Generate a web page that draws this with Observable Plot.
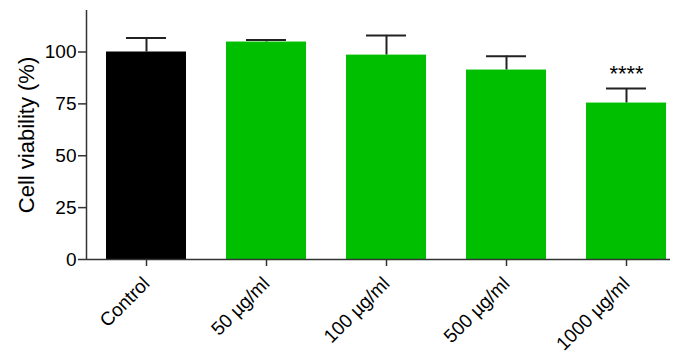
<!DOCTYPE html>
<html>
<head>
<meta charset="utf-8">
<script src="https://cdn.jsdelivr.net/npm/d3@7"></script>
<script src="https://cdn.jsdelivr.net/npm/@observablehq/plot@0.6"></script>
<style>
  html, body { margin: 0; padding: 0; background: #fff; }
  svg { font-family: "Liberation Sans", Arial, sans-serif; }
</style>
</head>
<body>
<div id="chart"></div>
<script>
const categories = ["Control", "50 µg/ml", "100 µg/ml", "500 µg/ml", "1000 µg/ml"];
const means = [100, 104.8, 98.5, 91.3, 75.4];
const errTop = [106.8, 105.8, 108, 98, 82.4];
const signif = ["", "", "", "", "****"];
const colors = ["#000000", "#00bf00", "#00bf00", "#00bf00", "#00bf00"];
const yTicks = [0, 25, 50, 75, 100];

const data = categories.map((c, i) => ({ c, m: means[i], e: errTop[i], s: signif[i], col: colors[i] }));

const chart = Plot.plot({
  width: 677,
  height: 356,
  marginTop: 10,
  marginBottom: 97,
  marginLeft: 86,
  marginRight: 7,
  style: { fontFamily: "Liberation Sans, Arial, sans-serif", fontSize: "19px", color: "#000" },
  x: { domain: categories, range: [86, 686], paddingInner: 1/3, paddingOuter: 1/6, label: null },
  y: { domain: [0, 120], label: null },
  marks: [
    Plot.ruleX(data, { x: "c", y1: "m", y2: "e", stroke: "#222", strokeWidth: 2 }),
    Plot.tickY(data, { x: "c", y: "e", stroke: "#222", strokeWidth: 2, insetLeft: 20, insetRight: 20 }),
    Plot.barY(data, { x: "c", y: "m", fill: "col" }),
    Plot.text(data, { x: "c", y: "e", text: "s", lineAnchor: "bottom", dy: -8, fontSize: 22, fill: "#000" }),
    Plot.axisY({ ticks: yTicks, tickSize: 8, tickPadding: 2, fontSize: 19, stroke: "#333", strokeWidth: 1.5, label: null }),
    Plot.ruleX([categories[0]], { x: d => d, dx: -60, y1: 0, y2: 120, stroke: "#333", strokeWidth: 1.5 }),
    Plot.ruleY([0], { stroke: "#333", strokeWidth: 1.5 }),
    Plot.axisX({ tickSize: 7, tickRotate: -45, tickPadding: 14, fontSize: 19, stroke: "#333", strokeWidth: 1.5, label: null }),
    Plot.text(["Cell viability (%)"], { frameAnchor: "left", textAnchor: "middle", dx: -60, rotate: -90, fontSize: 22, fill: "#000" })
  ]
});
document.getElementById("chart").appendChild(chart);
</script>
</body>
</html>
